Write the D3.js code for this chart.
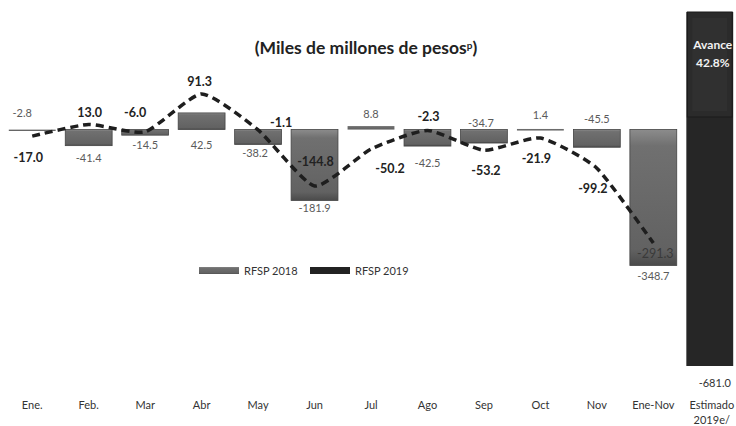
<!DOCTYPE html>
<html>
<head>
<meta charset="utf-8">
<script src="https://cdnjs.cloudflare.com/ajax/libs/d3/7.8.5/d3.min.js"></script>
<style>
  body { margin: 0; background: #fff; }
  text { font-family: Lato, "Open Sans", sans-serif; }
</style>
</head>
<body>
<div id="chart"></div>
<script>
// data
// ==============================
var months = ["Ene.", "Feb.", "Mar", "Abr", "May", "Jun", "Jul", "Ago", "Sep", "Oct", "Nov", "Ene-Nov", "Estimado 2019e/"];
var rfsp2018 = [-2.8, -41.4, -14.5, 42.5, -38.2, -181.9, 8.8, -42.5, -34.7, 1.4, -45.5, -348.7];
var rfsp2019 = [-17.0, 13.0, -6.0, 91.3, -1.1, -144.8, -50.2, -2.3, -53.2, -21.9, -99.2, -291.3];
var estimado2019 = -681.0;
var avance = "42.8%";
var seriesNames = ["RFSP 2018", "RFSP 2019"];

// label nudges [dx, dy] from the point (layout only)
var nudge2018 = [[-10, -18], [0, 12], [0, 10], [0, 32], [-3, 9], [0, 8], [0, -12], [0, 17], [-3, -20], [0, -14], [0, -28], [0, 11]];
var nudge2019 = [[-4, 21], [1, -12], [-10, -19], [-2, -12], [23, -7], [1, -24], [19, 19], [1, -14], [2, 20], [-4, 20], [-4, 20], [2, 10]];

var svgWidth = 736;
var svgHeight = 426;

var svg = d3.select("#chart").append("svg")
  .attr("width", svgWidth)
  .attr("height", svgHeight);

var defs = svg.append("defs");
var grad = defs.append("linearGradient")
  .attr("id", "barGrad")
  .attr("x1", 0).attr("y1", 0).attr("x2", 0).attr("y2", 1);
grad.append("stop").attr("offset", "0%").attr("stop-color", "#8c8c8c");
grad.append("stop").attr("offset", "12%").attr("stop-color", "#707070");
grad.append("stop").attr("offset", "88%").attr("stop-color", "#626262");
grad.append("stop").attr("offset", "100%").attr("stop-color", "#4a4a4a");

// scales
// ==============================
var xScale = d3.scaleBand()
  .domain(months)
  .range([4, 738])
  .paddingInner(0.17)
  .paddingOuter(0.085);

var yScale = d3.scaleLinear()
  .domain([150, -600])
  .range([71, 363.5]);

// estimate bar is drawn on its own scale
var yEst = d3.scaleLinear()
  .domain([0, estimado2019])
  .range([12, 366]);

var cx = function(i) { return xScale(months[i]) + xScale.bandwidth() / 2; };

// bars 2018
// ==============================
svg.append("g").selectAll("rect")
  .data(rfsp2018)
  .enter()
  .append("rect")
  .attr("x", (d, i) => xScale(months[i]))
  .attr("y", d => yScale(Math.max(0, d)))
  .attr("width", xScale.bandwidth())
  .attr("height", d => Math.max(1.5, Math.abs(yScale(d) - yScale(0))))
  .attr("fill", "url(#barGrad)")
  .attr("stroke", d => Math.abs(d) < 10 ? "none" : "#444")
  .attr("stroke-width", 0.8);

// estimate bar
var estX = xScale(months[12]);
svg.append("rect")
  .attr("x", estX)
  .attr("y", yEst(0))
  .attr("width", xScale.bandwidth())
  .attr("height", yEst(estimado2019) - yEst(0))
  .attr("fill", "#262626");

// avance panel (bevelled box on top)
svg.append("rect")
  .attr("x", estX + 1)
  .attr("y", yEst(0))
  .attr("width", xScale.bandwidth() - 2)
  .attr("height", 105)
  .attr("fill", "#2b2b2b")
  .attr("stroke", "#1a1a1a")
  .attr("stroke-width", 1);
svg.append("rect")
  .attr("x", estX + 6)
  .attr("y", yEst(0) + 6)
  .attr("width", xScale.bandwidth() - 12)
  .attr("height", 93)
  .attr("fill", "#303030");

svg.append("text")
  .attr("x", cx(12) + 3)
  .attr("y", 49)
  .attr("text-anchor", "middle")
  .attr("fill", "#f2f2f2")
  .style("font-size", "12px")
  .style("font-weight", "bold")
  .text("Avance");
svg.append("text")
  .attr("x", cx(12) + 3)
  .attr("y", 67)
  .attr("text-anchor", "middle")
  .attr("fill", "#f2f2f2")
  .style("font-size", "12px")
  .style("font-weight", "bold")
  .text(avance);

// dashed line 2019
// ==============================
var line = d3.line()
  .x((d, i) => cx(i))
  .y(d => yScale(d))
  .curve(d3.curveCardinal.tension(0.45));

svg.append("path")
  .datum(rfsp2019)
  .attr("d", line)
  .attr("fill", "none")
  .attr("stroke", "#1e1e1e")
  .attr("stroke-width", 3.5)
  .attr("stroke-dasharray", "8,5");

// value labels
// ==============================
svg.append("g").selectAll("text")
  .data(rfsp2018)
  .enter()
  .append("text")
  .attr("x", (d, i) => cx(i) + nudge2018[i][0])
  .attr("y", (d, i) => yScale(d) + nudge2018[i][1] + 4)
  .attr("text-anchor", "middle")
  .attr("fill", "#5a5a5a")
  .style("font-size", "11px")
  .text(d => d3.format(".1f")(d).replace("−", "-"));

svg.append("text")
  .attr("x", cx(12) + 5)
  .attr("y", yEst(estimado2019) + 21)
  .attr("text-anchor", "middle")
  .attr("fill", "#333")
  .style("font-size", "11px")
  .text(d3.format(".1f")(estimado2019).replace("−", "-"));

svg.append("g").selectAll("text")
  .data(rfsp2019)
  .enter()
  .append("text")
  .attr("x", (d, i) => cx(i) + nudge2019[i][0])
  .attr("y", (d, i) => yScale(d) + nudge2019[i][1] + 4.5)
  .attr("text-anchor", "middle")
  .attr("fill", (d, i) => i >= 11 ? "#3a3a3a" : "#222")
  .style("font-size", "12.5px")
  .style("font-weight", (d, i) => i >= 11 ? "normal" : "bold")
  .text(d => d3.format(".1f")(d).replace("−", "-"));

// x axis
// ==============================
var bottomAxis = d3.axisBottom(xScale).tickSize(0).tickPadding(0);
var xAxis = svg.append("g")
  .attr("transform", "translate(0, 401)")
  .call(bottomAxis);
xAxis.select(".domain").remove();
xAxis.selectAll("text")
  .style("font-family", "Lato, sans-serif")
  .style("font-size", "11px")
  .attr("fill", "#333")
  .each(function(d) {
    var parts = d.split(" ");
    if (parts.length > 1) {
      var t = d3.select(this).text(null);
      t.append("tspan").attr("x", 2).attr("dy", "0.71em").text(parts[0]);
      t.append("tspan").attr("x", 2).attr("dy", "1.35em").text(parts[1]);
    }
  });

// title
// ==============================
var title = svg.append("text")
  .attr("x", 366)
  .attr("y", 54)
  .attr("text-anchor", "middle")
  .attr("fill", "#222")
  .style("font-size", "17.5px")
  .style("font-weight", "bold");
title.append("tspan").text("(Miles de millones de pesos");
title.append("tspan").attr("dy", -5).style("font-size", "10px").text("p");
title.append("tspan").attr("dy", 5).text(")");

// legend
// ==============================
var legend = svg.append("g").attr("transform", "translate(199, 267)");
legend.append("rect").attr("x", 0).attr("y", 0).attr("width", 40).attr("height", 7).attr("fill", "url(#barGrad)");
legend.append("text").attr("x", 45).attr("y", 7.5).attr("fill", "#333").style("font-size", "11px").text(seriesNames[0]);
legend.append("rect").attr("x", 111).attr("y", 0).attr("width", 40).attr("height", 7).attr("fill", "#222");
legend.append("text").attr("x", 156).attr("y", 7.5).attr("fill", "#333").style("font-size", "11px").text(seriesNames[1]);
</script>
</body>
</html>
